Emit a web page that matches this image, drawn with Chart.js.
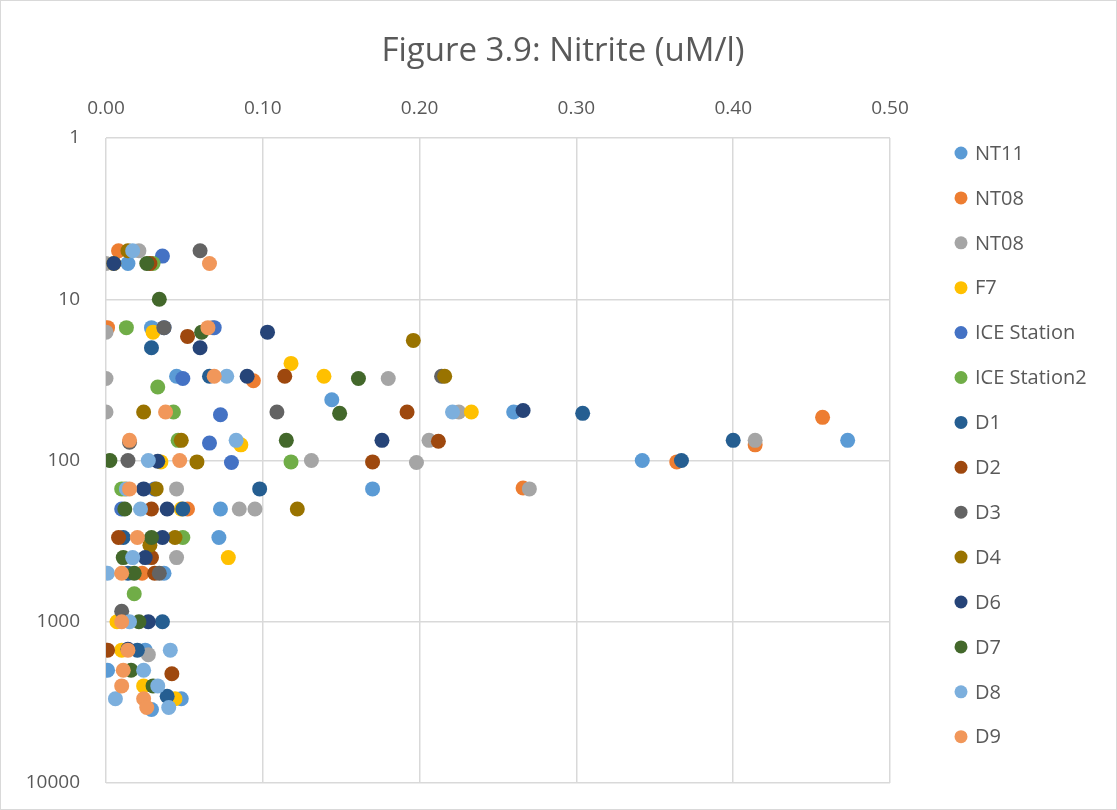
<!DOCTYPE html>
<html><head><meta charset="utf-8">
<script src="https://cdn.jsdelivr.net/npm/chart.js@4/dist/chart.umd.min.js"></script>
<style>html,body{margin:0;padding:0;background:#fff}#wrap{width:1117px;height:810px;position:relative}</style>
</head><body><div id="wrap"><canvas id="c" width="1117" height="810"></canvas></div>
<script>
// Each point: [nitrite (uM/l), depth (m)]
const NT11 = [[0.014,6],[0.029,15],[0.045,30],[0.144,42],[0.260,50],[0.473,75],[0.342,100],[0.170,150],[0.073,200],[0.072,300],[0.037,500],[0.025,1500],[0.001,2000],[0.048,3000],[0.029,3500]];
const NT08a = [[0.008,5],[0.001,15],[0.094,32],[0.457,54],[0.414,80],[0.364,102],[0.266,148],[0.052,200],[0.023,500]];
const NT08b = [[0.021,5],[0.000,6],[0.000,16],[0.068,15],[0.000,31],[0.180,31],[0.000,50],[0.225,50],[0.206,75],[0.414,75],[0.131,100],[0.198,103],[0.270,150],[0.045,150],[0.085,200],[0.095,200],[0.045,400],[0.027,1600]];
const F7 = [[0.005,6],[0.030,16],[0.118,25],[0.139,30],[0.233,50],[0.086,80],[0.035,102],[0.012,150],[0.048,200],[0.078,400],[0.007,1000],[0.010,1500],[0.024,2500],[0.044,3000]];
const ICE1 = [[0.036,5.4],[0.037,15],[0.069,15],[0.049,31],[0.073,52],[0.066,78],[0.080,103],[0.031,150],[0.010,200]];
const ICE2 = [[0.030,6],[0.013,15],[0.033,35],[0.043,50],[0.046,75],[0.118,102],[0.010,150],[0.049,300],[0.018,670]];
const D1 = [[0.029,20],[0.066,30],[0.304,51],[0.400,75],[0.367,100],[0.098,150],[0.049,200],[0.011,300],[0.014,500],[0.036,1000],[0.020,1500],[0.039,2900]];
const D2 = [[0.028,6],[0.052,17],[0.114,30],[0.192,50],[0.212,76],[0.170,102],[0.029,200],[0.008,300],[0.029,400],[0.031,500],[0.001,1500],[0.042,2100]];
const D3 = [[0.060,5],[0.037,15],[0.214,30],[0.109,50],[0.015,77],[0.014,100],[0.034,500],[0.010,860]];
const D4 = [[0.014,5],[0.196,18],[0.216,30],[0.024,50],[0.048,75],[0.058,102],[0.032,150],[0.122,200],[0.044,300],[0.028,335]];
const D6 = [[0.005,6],[0.103,16],[0.060,20],[0.090,30],[0.266,49],[0.176,75],[0.033,101],[0.024,150],[0.039,200],[0.036,300],[0.025,400],[0.027,1000],[0.014,1480]];
const D7 = [[0.026,6],[0.034,10],[0.061,16],[0.161,31],[0.149,51],[0.115,75],[0.0025,100],[0.012,200],[0.029,300],[0.011,400],[0.018,500],[0.021,1000],[0.016,2000],[0.030,2500]];
const D8 = [[0.017,5],[0.077,30],[0.221,50],[0.083,75],[0.027,100],[0.013,150],[0.022,200],[0.017,400],[0.001,500],[0.015,1000],[0.041,1500],[0.024,2000],[0.033,2500],[0.006,3000],[0.040,3400]];
const D9 = [[0.066,6],[0.065,15],[0.069,30],[0.038,50],[0.015,75],[0.047,100],[0.015,150],[0.020,300],[0.010,500],[0.010,1000],[0.014,1500],[0.011,2000],[0.010,2500],[0.024,3000],[0.026,3400]];

const seriesNames = ["NT11","NT08","NT08","F7","ICE Station","ICE Station2","D1","D2","D3","D4","D6","D7","D8","D9"];
const seriesData = [NT11,NT08a,NT08b,F7,ICE1,ICE2,D1,D2,D3,D4,D6,D7,D8,D9];
const seriesColors = ["#5B9BD5","#ED7D31","#A5A5A5","#FFC000","#4472C4","#70AD47","#255E91","#9E480E","#636363","#997300","#264478","#43682B","#7CAFDD","#F1975A"];
const xTicks = [0,0.1,0.2,0.3,0.4,0.5];
const yTicks = [1,10,100,1000,10000];
const titleText = "Figure 3.9: Nitrite (uM/l)";

const FONT = "'Open Sans', 'Liberation Sans', sans-serif";
const TXT = "#595959";
const GRID = "#D9D9D9";
const PLOT = {left:106, top:138, right:890, bottom:783};

const n = seriesData.length;
const datasets = seriesData.map((arr,i)=>({
  label: seriesNames[i],
  data: arr.map(([x,y])=>({x,y})),
  backgroundColor: seriesColors[i],
  borderColor: seriesColors[i],
  borderWidth: 0,
  pointRadius: 7.5,
  pointHoverRadius: 7.5,
  showLine: false,
  order: n - i
}));

const frame = {
  id:'frame',
  beforeDraw(chart){
    const c = chart.ctx;
    c.save(); c.fillStyle='#fff'; c.fillRect(0,0,chart.width,chart.height);
    c.strokeStyle=GRID; c.lineWidth=1; c.strokeRect(0.5,0.5,chart.width-1,chart.height-1);
    c.restore();
  },
  afterDraw(chart){
    const c = chart.ctx;
    c.save();
    c.fillStyle = TXT;
    c.font = "33px " + FONT;
    c.textAlign = 'center';
    c.textBaseline = 'middle';
    c.fillText(titleText, 563, 52);
    c.font = "20px " + FONT;
    c.textAlign = 'left';
    chart.data.datasets.forEach((ds,i)=>{
      const y = 153 + i*44.9;
      c.fillStyle = ds.backgroundColor;
      c.beginPath(); c.arc(961, y, 6.5, 0, Math.PI*2); c.fill();
      c.fillStyle = TXT;
      c.fillText(ds.label, 975, y+1);
    });
    c.restore();
  }
};

new Chart(document.getElementById('c'), {
  type: 'scatter',
  data: { datasets },
  options: {
    responsive: false,
    devicePixelRatio: 1,
    animation: false,
    layout: { padding: { left: 0, top: 0, right: 1117-PLOT.right, bottom: 810-PLOT.bottom } },
    plugins: {
      legend: { display: false },
      tooltip: { enabled: false },
      title: { display: false }
    },
    scales: {
      x: {
        type: 'linear', position: 'top', min: 0, max: 0.5,
        afterBuildTicks: s => { s.ticks = xTicks.map(v=>({value:v})); },
        ticks: { callback: v => Number(v).toFixed(2), color: TXT, font: { family: FONT, size: 19 }, padding: 18, maxRotation: 0 },
        grid: { color: GRID, lineWidth: 1.5, drawTicks: false },
        border: { display: false },
        afterFit: s => { s.height = PLOT.top; s.paddingLeft = 0; s.paddingRight = 0; }
      },
      y: {
        type: 'logarithmic', reverse: true, min: 1, max: 10000,
        afterBuildTicks: s => { s.ticks = yTicks.map(v=>({value:v})); },
        ticks: { callback: v => String(v), color: TXT, font: { family: FONT, size: 19 }, padding: 26 },
        grid: { color: GRID, lineWidth: 1.5, drawTicks: false },
        border: { display: false },
        afterFit: s => { s.width = PLOT.left; s.paddingTop = 0; s.paddingBottom = 0; }
      }
    }
  },
  plugins: [frame]
});
</script></body></html>
